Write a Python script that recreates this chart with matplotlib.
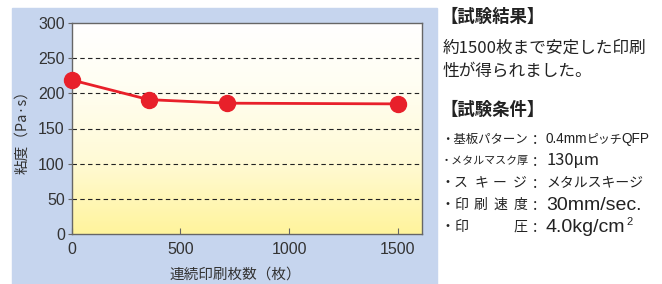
import numpy as np
import matplotlib
matplotlib.use("Agg")
import matplotlib.pyplot as plt
from matplotlib.colors import LinearSegmentedColormap
from matplotlib.patches import Rectangle

# data
prints = [0, 355, 715, 1500]
viscosity = [219, 191, 186, 185]
xticks = [0, 500, 1000, 1500]
yticks = [0, 50, 100, 150, 200, 250, 300]

jp = ["Noto Sans CJK JP", "DejaVu Sans"]
num = ["Liberation Sans", "DejaVu Sans"]

W, H = 662, 284
fig = plt.figure(figsize=(W / 100, H / 100), dpi=100)
fig.patch.set_facecolor("white")

# blue panel behind the chart
fig.patches.append(Rectangle((12 / W, 0), (437 - 12) / W, (284 - 8) / H,
                             transform=fig.transFigure, color="#C6D5EE", zorder=-10))

ax = fig.add_axes([71.7 / W, 1 - 234 / H, (421.7 - 71.7) / W, (234 - 23) / H])
ax.set_zorder(1)
ax.set_xlim(0, 1610)
ax.set_ylim(0, 300)

# white -> yellow gradient
cmap = LinearSegmentedColormap.from_list("wy", [(0, "#FFF49C"), (0.35, "#FFFAD6"),
                                                 (0.7, "#FFFEF2"), (1, "#FFFFFF")])
grad = np.linspace(0, 1, 256).reshape(-1, 1)
ax.imshow(grad, extent=[0, 1610, 0, 300], origin="lower", aspect="auto", cmap=cmap, zorder=0)

for y in yticks[1:-1]:
    ax.axhline(y, color="#222222", lw=0.8, ls=(0, (4, 3)), zorder=1)

ax.plot(prints, viscosity, color="#E8202A", lw=2, marker="o", ms=11.5,
        clip_on=False, zorder=3)

ax.set_xticks(xticks)
ax.set_yticks(yticks)
ax.tick_params(axis="x", direction="in", length=4, color="#666666", pad=6)
ax.tick_params(axis="y", direction="out", length=3, color="#666666", pad=2)
for lab in ax.get_xticklabels() + ax.get_yticklabels():
    lab.set_family(num)
    lab.set_fontsize(11.5)
    lab.set_color("#333333")
for s in ax.spines.values():
    s.set_color("#666666")
    s.set_linewidth(1)

fig.text(22 / W, 1 - 129 / H, "粘度（Pa·s）", rotation=90, ha="center", va="center",
         family=jp, fontsize=10.5, color="#333333")
fig.text(235 / W, 1 - 275 / H, "連続印刷枚数（枚）", ha="center", va="center",
         family=jp, fontsize=10.5, color="#333333")

# right-hand notes
renderer = fig.canvas.get_renderer()

def put(x, y, s, family=jp, **kw):
    return fig.text(x / W, 1 - y / H, s, va="center", family=family, color="#222222", **kw)

def fit(t, width, cap=14):
    # shrink/grow a text so its rendered width matches the reference
    for _ in range(3):
        w = t.get_window_extent(renderer).width
        t.set_fontsize(min(cap, t.get_fontsize() * width / w))
    return t

put(440, 17, "【試験結果】", fontsize=12.5, fontweight="bold")
put(443, 48, "約1500枚まで安定した印刷", fontsize=12)
put(443, 71, "性が得られました。", fontsize=12)
put(440, 110, "【試験条件】", fontsize=12.5, fontweight="bold")

rows = [139, 161, 183, 205, 227]
# first two labels are one string each, the spaced ones are laid out char by char
fit(put(441, rows[0], "・基板パターン", fontsize=9), 528 - 441)
put(441, rows[1], "・メタルマスク厚", fontsize=7.9)
spaced = [["ス", "キ", "ー", "ジ"], ["印", "刷", "速", "度"], ["印", "", "", "圧"]]
char_x = [461, 481, 500, 520]
for y, chars in zip(rows[2:], spaced):
    put(441, y, "・", fontsize=10)
    for cx, ch in zip(char_x, chars):
        put(cx, y, ch, fontsize=10, ha="center")

for y in rows:
    put(535, y, ":", fontsize=11.5, ha="center")

# row 1 value in three pieces: latin / kana / latin
t = put(546, rows[0], "0.4mm", family=num, fontsize=9.8)
x = t.get_window_extent(renderer).x1 - 1
t = put(x, rows[0], "ピッチ", fontsize=8.6)
x = t.get_window_extent(renderer).x1 - 1
put(x, rows[0], "QFP", family=num, fontsize=9.8)

values = ["130μm", "メタルスキージ", "30mm/sec.", "4.0kg/cm"]
value_end = [599, 643, 642, 634]
value_font = [jp, jp, num, num]
for y, v, end, fam in zip(rows[1:], values, value_end, value_font):
    last = fit(put(546, y, v, family=fam, fontsize=11), end - 546)

# superscript 2 right after "cm"
bb = last.get_window_extent(renderer)
fig.text((bb.x1 + 1) / W, 1 - (rows[4] - 5) / H, "2", va="center", family=num,
         color="#222222", fontsize=8)

fig.savefig("out.png", dpi=100)
